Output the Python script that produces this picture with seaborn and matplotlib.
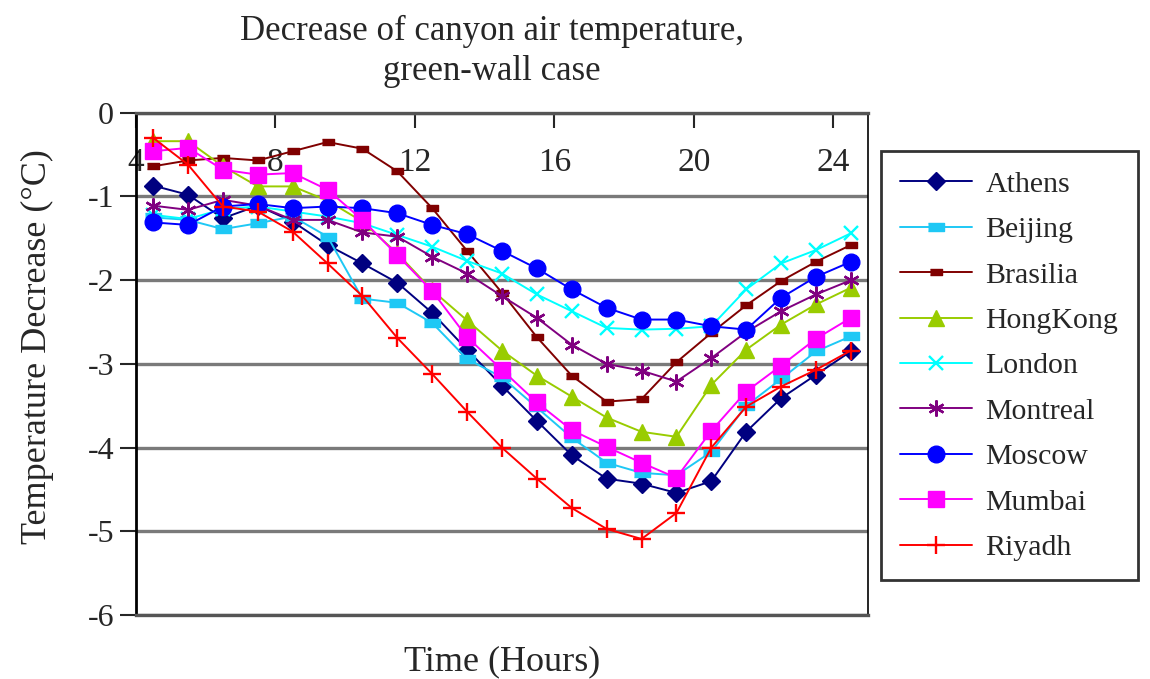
import numpy as np
import pandas as pd
import matplotlib
matplotlib.use("Agg")
import matplotlib.pyplot as plt
import seaborn as sns

# ---------------- data ----------------
hours = [4.5, 5.5, 6.5, 7.5, 8.5, 9.5, 10.5, 11.5, 12.5, 13.5, 14.5,
         15.5, 16.5, 17.5, 18.5, 19.5, 20.5, 21.5, 22.5, 23.5, 24.5]

athens   = [-0.87, -0.98, -1.26, -1.11, -1.30, -1.58, -1.80, -2.03, -2.39, -2.83, -3.26,
            -3.68, -4.09, -4.37, -4.43, -4.54, -4.40, -3.81, -3.41, -3.13, -2.85]
beijing  = [-1.25, -1.28, -1.39, -1.32, -1.24, -1.48, -2.22, -2.27, -2.51, -2.94, -3.16,
            -3.52, -3.88, -4.18, -4.30, -4.33, -4.05, -3.50, -3.18, -2.85, -2.67]
brasilia = [-0.64, -0.57, -0.54, -0.57, -0.46, -0.35, -0.43, -0.70, -1.14, -1.65, -2.15,
            -2.68, -3.14, -3.45, -3.42, -2.98, -2.63, -2.30, -2.01, -1.78, -1.58]
hongkong = [-0.34, -0.34, -0.64, -0.88, -0.88, -1.05, -1.30, -1.68, -2.12, -2.48, -2.84,
            -3.14, -3.39, -3.64, -3.81, -3.87, -3.25, -2.83, -2.53, -2.29, -2.09]
london   = [-1.22, -1.27, -1.15, -1.12, -1.18, -1.24, -1.32, -1.46, -1.60, -1.77, -1.92,
            -2.17, -2.37, -2.57, -2.59, -2.58, -2.55, -2.11, -1.80, -1.64, -1.44]
montreal = [-1.11, -1.16, -1.04, -1.11, -1.28, -1.28, -1.43, -1.48, -1.72, -1.92, -2.19,
            -2.45, -2.77, -3.00, -3.08, -3.21, -2.93, -2.62, -2.37, -2.17, -2.00]
moscow   = [-1.31, -1.34, -1.12, -1.09, -1.14, -1.12, -1.14, -1.20, -1.34, -1.45, -1.65,
            -1.86, -2.11, -2.33, -2.47, -2.47, -2.55, -2.59, -2.21, -1.96, -1.78]
mumbai   = [-0.46, -0.42, -0.68, -0.74, -0.72, -0.92, -1.28, -1.70, -2.13, -2.68, -3.07,
            -3.46, -3.79, -3.99, -4.18, -4.36, -3.80, -3.33, -3.02, -2.70, -2.45]
riyadh   = [-0.30, -0.62, -1.12, -1.18, -1.42, -1.80, -2.19, -2.69, -3.12, -3.57, -4.00,
            -4.37, -4.72, -4.97, -5.09, -4.78, -4.00, -3.51, -3.27, -3.07, -2.84]

cities = ["Athens", "Beijing", "Brasilia", "HongKong", "London",
          "Montreal", "Moscow", "Mumbai", "Riyadh"]
series = [athens, beijing, brasilia, hongkong, london,
          montreal, moscow, mumbai, riyadh]

x_ticks = [4, 8, 12, 16, 20, 24]
y_ticks = [0, -1, -2, -3, -4, -5, -6]

# ---------------- styles ----------------
rect = [(-1, -0.45), (1, -0.45), (1, 0.45), (-1, 0.45)]
styles = {
    "Athens":   dict(color="#000080", marker="D", ms=9.5, mew=1),
    "Beijing":  dict(color="#1EC8F5", marker=rect, ms=12, mew=1),
    "Brasilia": dict(color="#800000", marker=rect, ms=8.5, mew=1),
    "HongKong": dict(color="#99CC00", marker="^", ms=11, mew=1),
    "London":   dict(color="#00FFFF", marker="x", ms=10.5, mew=1.7),
    "Montreal": dict(color="#800080", marker=(6, 2, 0), ms=11.5, mew=1.7),
    "Moscow":   dict(color="#0000FF", marker="o", ms=12, mew=1),
    "Mumbai":   dict(color="#FF00FF", marker="s", ms=12, mew=1),
    "Riyadh":   dict(color="#FF0000", marker="+", ms=12.5, mew=1.7),
}

df = pd.concat([pd.DataFrame({"Hour": hours, "Decrease": v, "City": c})
                for c, v in zip(cities, series)], ignore_index=True)

sns.set_style("white")
plt.rcParams["font.family"] = ["Liberation Serif", "DejaVu Serif"]
plt.rcParams["axes.unicode_minus"] = False

fig = plt.figure(figsize=(11.5, 6.79), dpi=100)
ax = fig.add_axes([0.118, 0.094, 0.637, 0.740])

for c in cities:
    st = styles[c]
    sns.lineplot(data=df[df["City"] == c], x="Hour", y="Decrease", ax=ax,
                 color=st["color"], marker=st["marker"], markersize=st["ms"],
                 markeredgewidth=st["mew"], markeredgecolor=st["color"],
                 linewidth=1.4, label=c, errorbar=None)

ax.set_xlim(4, 25)
ax.set_ylim(-6, 0)
ax.set_yticks(y_ticks)
ax.set_yticklabels([str(v) for v in y_ticks], fontsize=23)
ax.set_xticks(x_ticks)
ax.set_xticklabels([str(v) for v in x_ticks], fontsize=24)

# x axis sits at the top (y = 0) with labels hanging inside the plot
ax.xaxis.tick_top()
ax.tick_params(axis="x", direction="in", length=11, width=1.5, pad=-47,
               top=True, bottom=False, labeltop=True, labelbottom=False)
ax.tick_params(axis="y", direction="out", length=11.5, width=1.5, pad=4, left=True)

ax.yaxis.grid(True, color="#7a7a7a", linewidth=2.4)
ax.xaxis.grid(False)
for s in ["top", "bottom"]:
    ax.spines[s].set_color("#555555")
    ax.spines[s].set_linewidth(2.4)
ax.spines["left"].set_color("black")
ax.spines["left"].set_linewidth(2)
ax.spines["right"].set_color("black")
ax.spines["right"].set_linewidth(1.2)

ax.set_xlabel("Time (Hours)", fontsize=26, labelpad=22)
ax.set_ylabel("Temperature Decrease (\u00b0C)", fontsize=26)
ax.yaxis.set_label_coords(-0.112, 0.535)

fig.text(0.428, 0.924, "Decrease of canyon air temperature,\ngreen-wall case",
         ha="center", va="center", fontsize=25, linespacing=1.3)

leg = ax.legend(loc="upper left", bbox_to_anchor=(0.766, 0.777),
                bbox_transform=fig.transFigure, fontsize=21.5, frameon=True,
                fancybox=False, handlelength=2.4, labelspacing=0.62,
                borderpad=0.65, handletextpad=0.45, borderaxespad=0)
leg.get_frame().set_edgecolor("black")
leg.get_frame().set_linewidth(2)

fig.savefig("out.png", dpi=100, facecolor="white")
